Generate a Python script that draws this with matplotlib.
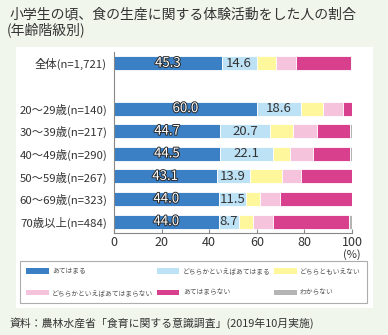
import matplotlib
matplotlib.use("Agg")
import matplotlib.pyplot as plt
import matplotlib.patheffects as pe
from matplotlib.patches import Rectangle, Patch
import numpy as np

plt.rcParams['font.family'] = ['Noto Sans CJK JP', 'DejaVu Sans']

# %% data
groups = ['全体(n=1,721)', '20～29歳(n=140)', '30～39歳(n=217)', '40～49歳(n=290)',
          '50～59歳(n=267)', '60～69歳(n=323)', '70歳以上(n=484)']
rows = [0, 2, 3, 4, 5, 6, 7]

categories = ['あてはまる', 'どちらかといえばあてはまる', 'どちらともいえない',
              'どちらかといえばあてはまらない', 'あてはまらない', 'わからない']
atehamaru     = [45.3, 60.0, 44.7, 44.5, 43.1, 44.0, 44.0]
dochira_ate   = [14.6, 18.6, 20.7, 22.1, 13.9, 11.5, 8.7]
dochiramo     = [8.2, 9.4, 9.9, 7.3, 13.4, 5.8, 5.8]
dochira_nai   = [8.4, 8.1, 9.9, 9.8, 8.0, 8.4, 8.2]
atehamaranai  = [22.9, 3.9, 14.1, 15.6, 21.4, 30.1, 32.2]
wakaranai     = [0.6, 0.0, 0.7, 0.7, 0.2, 0.2, 1.1]

series = [atehamaru, dochira_ate, dochiramo, dochira_nai, atehamaranai, wakaranai]
colors = ['#3b80c5', '#bde2f6', '#fef79c', '#f5c3dc', '#d8408e', '#b4b4b4']

# %% figure
fig = plt.figure(figsize=(3.88, 3.35), dpi=100, facecolor='#f0f6ec')
fig.patches.append(Rectangle((16/388, 1-308/335), 357/388, 261/335,
                             transform=fig.transFigure, fc='white', ec='none', zorder=-10))

ax = fig.add_axes([114/388, 1-233/335, 238/388, 181/335])
ax.set_facecolor('none')

left = np.zeros(len(rows))
for vals, col, name in zip(series, colors, categories):
    vals = np.array(vals)
    ax.barh(rows, vals, left=left, height=0.62, color=col, edgecolor='white',
            linewidth=0.6, label=name)
    left += vals

# value labels
for r, v in zip(rows, atehamaru):
    t = ax.text(v/2, r, f'{v:.1f}', ha='center', va='center', color='white', fontsize=9.5)
    t.set_path_effects([pe.withStroke(linewidth=1.4, foreground='#2a2a2a')])
for r, a, v in zip(rows, atehamaru, dochira_ate):
    ax.text(a + v/2, r, f'{v:.1f}', ha='center', va='center', color='#333333', fontsize=9.5)

ax.set_xlim(0, 100)
ax.set_ylim(7.5, -0.5)
ax.set_yticks(rows)
ax.set_yticklabels(groups, fontsize=8.2, color='#333333')
ax.set_xticks([0, 20, 40, 60, 80, 100])
ax.tick_params(axis='y', length=0, pad=5)
ax.tick_params(axis='x', direction='in', length=3, color='#888888', labelsize=9,
               labelcolor='#333333', pad=2)
for s in ['top', 'right']:
    ax.spines[s].set_visible(False)
for s in ['left', 'bottom']:
    ax.spines[s].set_color('#888888')
    ax.spines[s].set_linewidth(0.8)
ax.text(100, -0.088, '(%)', transform=ax.get_xaxis_transform(), ha='center', va='top',
        fontsize=8, color='#333333')

# legend
handles = [Patch(fc=c, ec='none') for c in colors]
order = [0, 3, 1, 4, 2, 5]
leg = fig.legend([handles[i] for i in order], [categories[i] for i in order], ncol=3,
                 loc='upper left', bbox_to_anchor=(20/388, 1-304/335, 347/388, 43/335),
                 mode='expand', fontsize=4.9, frameon=True, fancybox=False,
                 handlelength=3.3, handleheight=0.9, handletextpad=0.5,
                 columnspacing=0.5, borderaxespad=0, labelspacing=2.0, borderpad=0.9)
leg.get_frame().set_edgecolor('#999999')
leg.get_frame().set_linewidth(0.8)
for t in leg.get_texts():
    t.set_color('#555555')

fig.text(10/388, 1-15/335, '小学生の頃、食の生産に関する体験活動をした人の割合', fontsize=10,
         color='#333333', va='center', ha='left')
fig.text(7/388, 1-30/335, '(年齢階級別)', fontsize=10, color='#333333', va='center', ha='left')
fig.text(10/388, 1-323/335, '資料：農林水産省「食育に関する意識調査」(2019年10月実施)', fontsize=7.8,
         color='#333333', va='center', ha='left')

fig.savefig('out.png', dpi=100, facecolor=fig.get_facecolor())
